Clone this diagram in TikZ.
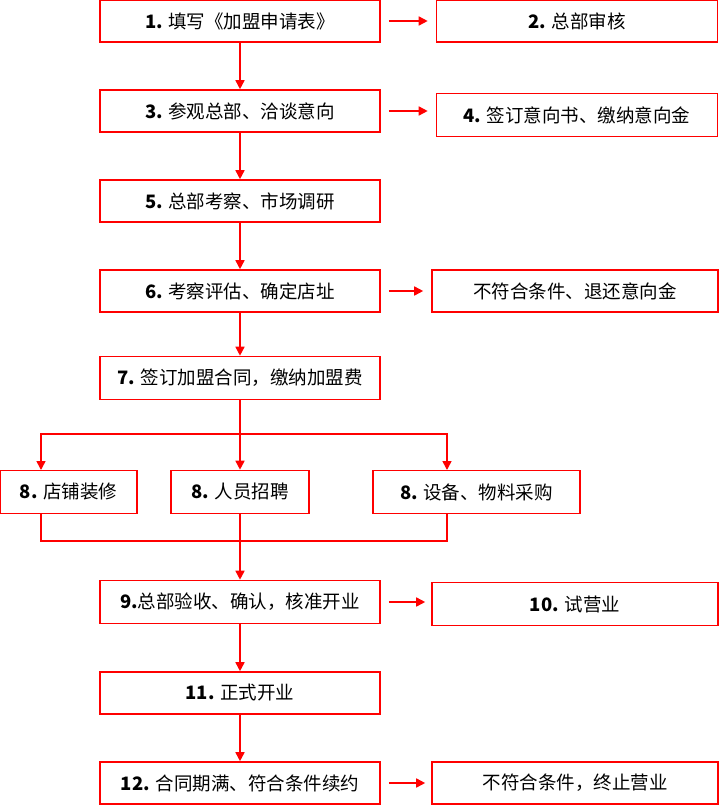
\documentclass[tikz,border=0pt]{standalone}
\usepackage{fontspec}
\setmainfont{Noto Sans CJK SC}
\usetikzlibrary{arrows.meta}
\begin{document}
\begin{tikzpicture}[x=1pt,y=-1pt,
  stepbox/.style={draw=red,line width=1.6pt,inner sep=0pt,font=\fontsize{18.5}{22}\selectfont},
  flow/.style={draw=red,line width=1.6pt,-{Triangle[length=9pt,width=9pt]}},
  link/.style={draw=red,line width=1.6pt}]
\useasboundingbox (0,0) rectangle (720,806);
% main column
\node[stepbox,minimum width=280,minimum height=42] (s1) at (240,21) {\textbf{1.} 填写《加盟申请表》};
\node[stepbox,minimum width=280,minimum height=42] (s3) at (240,111) {\textbf{3.} 参观总部、洽谈意向};
\node[stepbox,minimum width=280,minimum height=42] (s5) at (240,201) {\textbf{5.} 总部考察、市场调研};
\node[stepbox,minimum width=280,minimum height=42] (s6) at (240,291) {\textbf{6.} 考察评估、确定店址};
\node[stepbox,minimum width=280,minimum height=43] (s7) at (240,378) {\textbf{7.} 签订加盟合同，缴纳加盟费};
\node[stepbox,minimum width=280,minimum height=43] (s9) at (240,602) {\textbf{9.}总部验收、确认，核准开业};
\node[stepbox,minimum width=280,minimum height=42] (s11) at (240,693) {\textbf{11.} 正式开业};
\node[stepbox,minimum width=280,minimum height=42] (s12) at (240,783) {\textbf{12.} 合同期满、符合条件续约};
% side boxes
\node[stepbox,minimum width=281,minimum height=42] (s2) at (577,21) {\textbf{2.} 总部审核};
\node[stepbox,minimum width=281,minimum height=43] (s4) at (577,115) {\textbf{4.} 签订意向书、缴纳意向金};
\node[stepbox,minimum width=286,minimum height=42] (r6) at (575,291) {不符合条件、退还意向金};
\node[stepbox,minimum width=286,minimum height=43] (s10) at (575,604) {\textbf{10.} 试营业};
\node[stepbox,minimum width=286,minimum height=42] (r12) at (575,783) {不符合条件，终止营业};
% parallel steps
\node[stepbox,minimum width=137,minimum height=43] (s8a) at (68.5,492) {\textbf{8.} 店铺装修};
\node[stepbox,minimum width=138,minimum height=43] (s8b) at (240,492) {\textbf{8.} 人员招聘};
\node[stepbox,minimum width=207,minimum height=43] (s8c) at (476.5,492) {\textbf{8.} 设备、物料采购};
\coordinate (split) at (240,434);
\coordinate (merge) at (240,541);
% connectors
\draw[flow] (s1) -- (s3);
\draw[flow] (s3) -- (s5);
\draw[flow] (s5) -- (s6);
\draw[flow] (s6) -- (s7);
\draw[flow] (s9) -- (s11);
\draw[flow] (s11) -- (s12);
\draw[flow] ([xshift=8]s1.east) -- ([xshift=-8]s1.east -| s2.west);
\draw[flow] ([xshift=8]s3.east) -- ([xshift=-8]s3.east -| s4.west);
\draw[flow] ([xshift=8]s6.east) -- ([xshift=-8]s6.east -| r6.west);
\draw[flow] ([xshift=8]s9.east) -- ([xshift=-6]s9.east -| s10.west);
\draw[flow] ([xshift=8]s12.east) -- ([xshift=-6]s12.east -| r12.west);
\draw[link] (s7) -- (split);
\draw[flow] (split) -| (41,470);
\draw[flow] (split) -- (s8b);
\draw[flow] (split) -| (447,470);
\draw[link] (41,513) |- (merge) -| (447,513);
\draw[link] (s8b) -- (merge);
\draw[flow] (merge) -- (s9);
\end{tikzpicture}
\end{document}
